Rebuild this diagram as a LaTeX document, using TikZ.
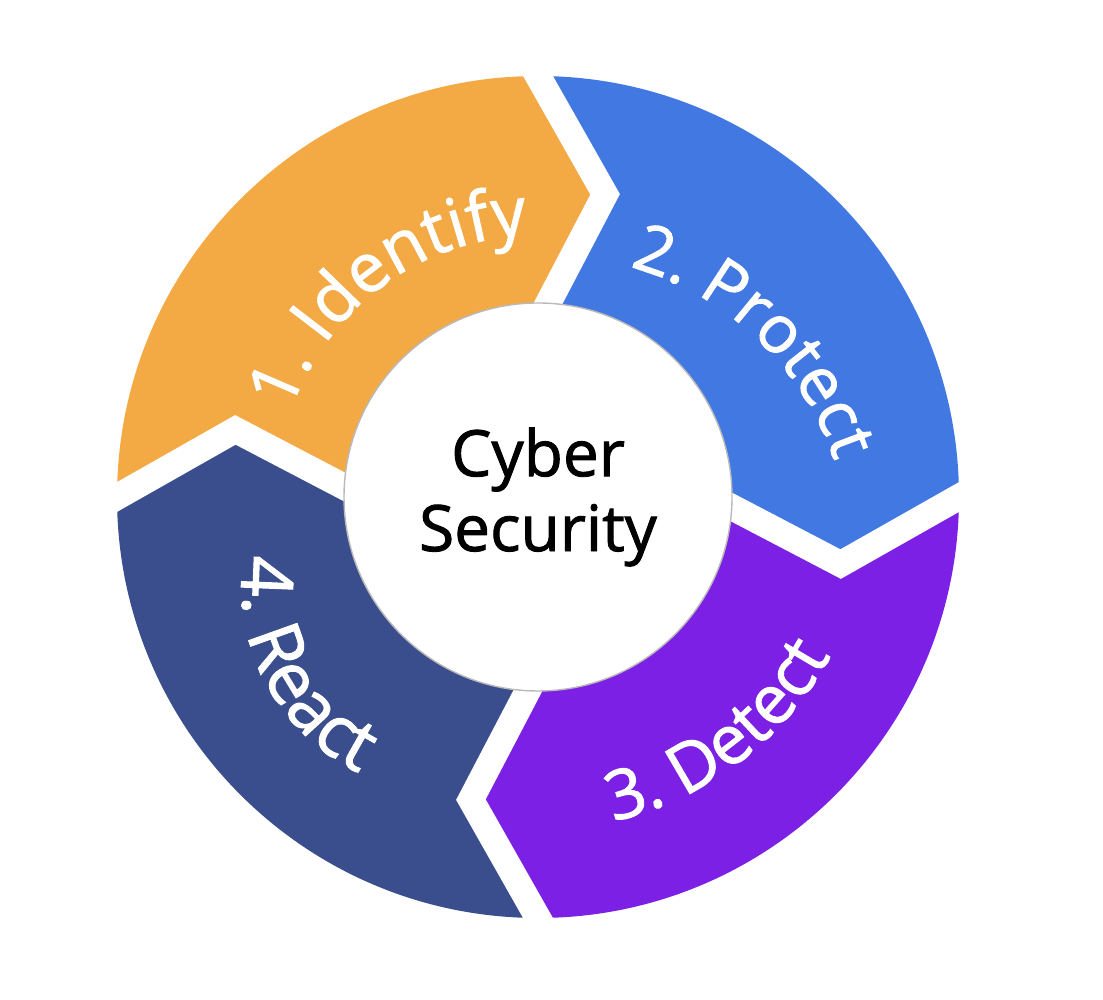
\documentclass[tikz,border=0pt]{standalone}
\usepackage{fontspec}
\setmainfont{Open Sans}[FakeBold=1.4]
\usetikzlibrary{calc}
\usetikzlibrary{decorations.text}

\definecolor{identifyorange}{HTML}{F3AA45}
\definecolor{protectblue}{HTML}{4178E2}
\definecolor{detectpurple}{HTML}{7B20E4}
\definecolor{reactnavy}{HTML}{3A4E8E}

\begin{document}
\begin{tikzpicture}[
    gap/.style={draw=white, line width=0.26cm, line join=miter, miter limit=10},
    lbl/.style 2 args={decorate, decoration={text along path, text align=center,
        text={|\fontsize{#1}{24}\selectfont\color{white}|#2}}},
    core/.style={circle, draw=gray!55, line width=0.4pt, fill=white, minimum size=3.88cm, inner sep=0pt, align=center, font=\fontsize{18.2}{21.3}\selectfont}
  ]
  \useasboundingbox (0,0) rectangle (11.03,9.99);

  \begin{scope}[shift={(5.38,5.02)}]
    % Arrow segments (start angle / colour), clockwise
    \foreach \a/\col in {90/protectblue, 0/detectpurple, -90/reactnavy, 180/identifyorange}{
      \pgfmathsetmacro{\e}{\a-90}
      \fill[\col] (\a:4.21) -- (\a-12.5:3.1) -- (\a-3:1.94)
        arc[start angle=\a-3, end angle=\e-3, radius=1.94]
        -- (\e-12.5:3.1) -- (\e:4.21)
        arc[start angle=\e, end angle=\a, radius=4.21] -- cycle;
    }

    % White gaps between the arrows
    \foreach \a in {90,0,-90,180}{
      \coordinate (tip) at (\a-12.5:3.1);
      \draw[gap] ($(tip)!1.3!(\a:4.21)$) -- (tip) -- ($(tip)!1.5!(\a-3:1.94)$);
    }

    % Centre
    \node[core] (hub) at (0,0) {Cyber\\Security};

    % Labels along the ring
    \path[lbl={19.4}{1. Identify}] (176.6:2.62) arc[start angle=176.6, end angle=76.6, radius=2.62];
    \path[lbl={18.8}{2. Protect}] ($(0.12,-0.59)+(96.5:3.0)$) arc[start angle=96.5, end angle=-3.5, radius=3.0];
    \path[lbl={19.4}{3. Detect}] (-102.7:3.33) arc[start angle=-102.7, end angle=-2.7, radius=3.33];
    \path[lbl={20.5}{4. React}] ($(-0.865,-0.873)+(148:2.1)$) arc[start angle=148, end angle=268, radius=2.1];
  \end{scope}
\end{tikzpicture}
\end{document}
